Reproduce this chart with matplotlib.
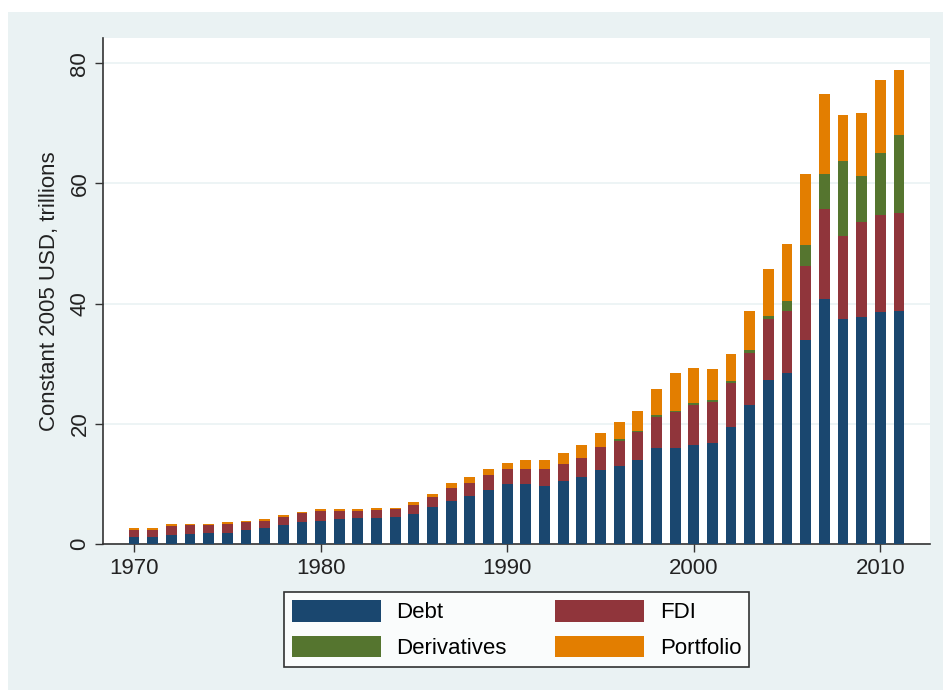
import numpy as np
import matplotlib
matplotlib.use("Agg")
import matplotlib.pyplot as plt
from matplotlib.patches import Rectangle

# constant 2005 USD, trillions
years = list(range(1970, 2012))
debt = [1.2, 1.2, 1.5, 1.7, 1.9, 1.9, 2.4, 2.7, 3.1, 3.6,
        3.9, 4.1, 4.4, 4.4, 4.55, 5.05, 6.2, 7.2, 7.95, 8.95,
        9.95, 9.95, 9.7, 10.45, 11.1, 12.3, 13.0, 14.0, 15.9, 15.9,
        16.4, 16.85, 19.5, 23.15, 27.3, 28.5, 34.0, 40.8, 37.4, 37.85,
        38.65, 38.8]
fdi = [1.2, 1.2, 1.45, 1.4, 1.2, 1.5, 1.2, 1.1, 1.4, 1.5,
       1.65, 1.45, 1.1, 1.3, 1.2, 1.45, 1.7, 2.2, 2.15, 2.45,
       2.6, 2.6, 2.85, 2.85, 3.15, 3.8, 4.2, 4.6, 5.25, 6.0,
       6.7, 6.75, 7.35, 8.65, 10.1, 10.3, 12.3, 14.9, 13.8, 15.7,
       16.15, 16.2]
deriv = [0, 0, 0, 0, 0, 0, 0, 0, 0, 0,
         0, 0, 0, 0, 0, 0, 0, 0, 0, 0,
         0, 0, 0, 0, 0, 0, 0.2, 0.25, 0.3, 0.3,
         0.35, 0.4, 0.35, 0.55, 0.5, 1.7, 3.4, 5.8, 12.5, 7.75,
         10.3, 13.0]
portfolio = [0.25, 0.25, 0.3, 0.3, 0.3, 0.3, 0.3, 0.3, 0.3, 0.2,
             0.25, 0.25, 0.25, 0.35, 0.3, 0.55, 0.5, 0.7, 1.0, 1.15,
             0.95, 1.4, 1.4, 1.9, 2.15, 2.4, 2.85, 3.25, 4.4, 6.2,
             5.9, 5.2, 4.35, 6.45, 7.9, 9.4, 11.8, 13.45, 7.7, 10.35,
             12.1, 10.8]

series = [("Debt", debt, "#1a476f"),
          ("FDI", fdi, "#90353b"),
          ("Derivatives", deriv, "#55752f"),
          ("Portfolio", portfolio, "#e37e00")]

plt.rcParams['font.family'] = ['Liberation Sans', 'DejaVu Sans']
plt.rcParams['font.size'] = 16

fig = plt.figure(figsize=(9.43, 6.94), dpi=100)
fig.patch.set_facecolor("white")
# stata-like graph region
fig.patches.append(Rectangle((8/943, 4/694), 1 - 8/943, 1 - 16/694,
                             transform=fig.transFigure, facecolor="#eaf2f3",
                             edgecolor="none", zorder=-10))

ax = fig.add_axes([103/943, 1 - 544/694, (930 - 103)/943, (544 - 38)/694])
ax.set_facecolor("white")

bottom = np.zeros(len(years))
handles = {}
for name, vals, col in series:
    vals = np.array(vals)
    h = ax.bar(years, vals, width=0.58, bottom=bottom, color=col,
               edgecolor="none", label=name, zorder=3)
    handles[name] = h
    bottom += vals

ax.set_xlim(1968.34, 2012.66)
ax.set_ylim(0, 84.2)
ax.set_xticks([1970, 1980, 1990, 2000, 2010])
ax.set_yticks([0, 20, 40, 60, 80])
ax.set_yticklabels(["0", "20", "40", "60", "80"], rotation=90, va="center")
ax.grid(axis="y", color="#eaf2f3", linewidth=1.2, zorder=0)
ax.set_axisbelow(True)

for s in ["top", "right"]:
    ax.spines[s].set_visible(False)
for s in ["left", "bottom"]:
    ax.spines[s].set_color("#333333")
    ax.spines[s].set_linewidth(1.2)
ax.tick_params(axis="both", direction="out", length=6, width=1.0,
               color="#333333", labelcolor="#222222", labelsize=16)
ax.tick_params(axis="y", pad=3)
ax.tick_params(axis="x", pad=4)

ax.set_ylabel("Constant 2005 USD, trillions", fontsize=16, color="#222222",
              labelpad=7)

# legend fills column-wise, so order gives rows Debt/FDI, Derivatives/Portfolio
order = ["Debt", "Derivatives", "FDI", "Portfolio"]
leg = fig.legend([handles[n] for n in order], order,
                 loc="center", bbox_to_anchor=(516.5/943, 1 - 629.5/694),
                 ncol=2, frameon=True, fancybox=False, fontsize=16,
                 handlelength=4.0, handleheight=1.1, handletextpad=0.7,
                 columnspacing=2.2, labelspacing=0.55, borderpad=0.35,
                 edgecolor="black")
leg.get_frame().set_linewidth(1.2)

plt.savefig("out.png", dpi=100, facecolor=fig.get_facecolor())
